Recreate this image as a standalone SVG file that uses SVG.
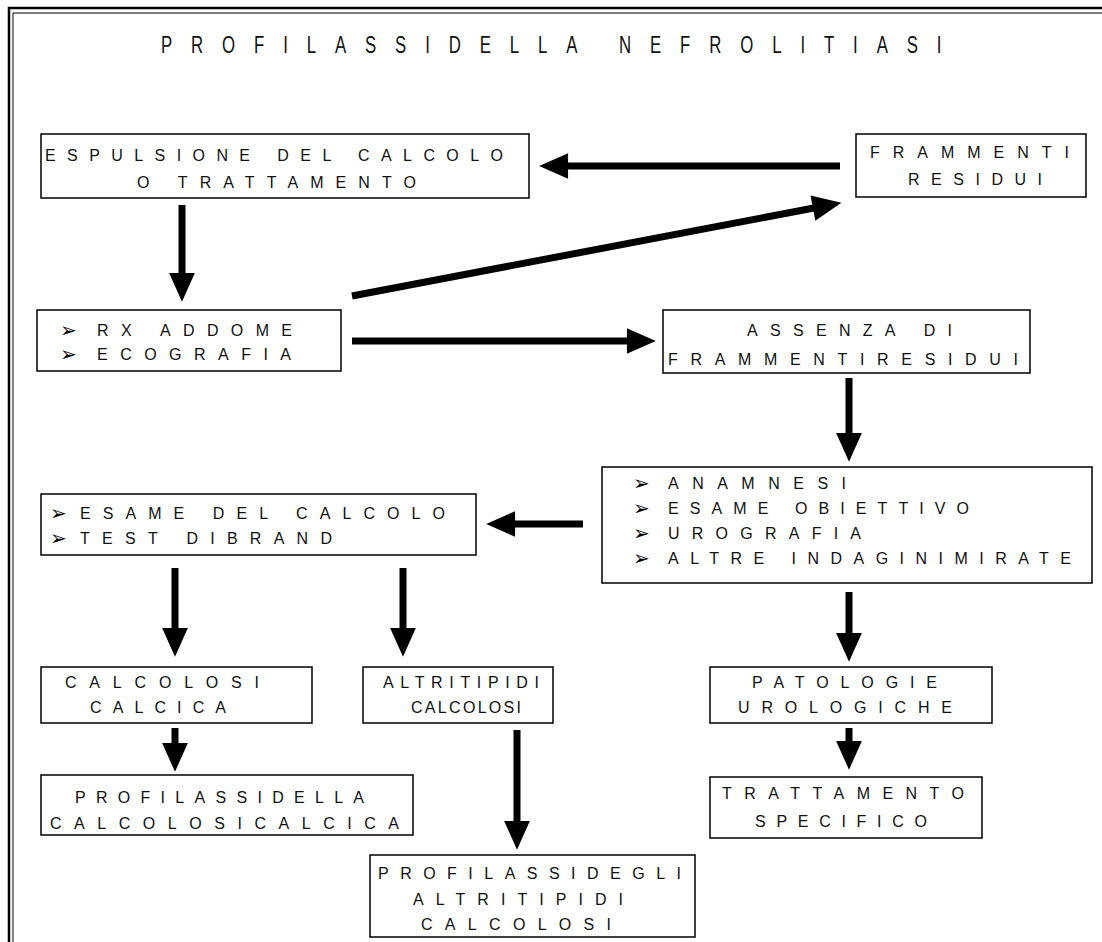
<svg xmlns="http://www.w3.org/2000/svg" width="1102" height="942" viewBox="0 0 1102 942">
  <style>
    .box { fill: #ffffff; stroke: #000000; stroke-width: 1.5; }
    .t { font-family: "Liberation Sans", Arial, sans-serif; font-size: 16px; fill: #111111; }
    .title { font-family: "Liberation Sans", Arial, sans-serif; font-size: 24px; fill: #111111; }
    .bul { font-family: "DejaVu Sans", sans-serif; font-size: 20px; fill: #000000; }
    .arr { stroke: #000000; stroke-width: 7; fill: none; marker-end: url(#head); }
  </style>
  <defs>
    <marker id="head" markerUnits="userSpaceOnUse" markerWidth="30" markerHeight="30" refX="1" refY="0" viewBox="0 -13 28 26" orient="auto" overflow="visible">
      <path d="M0,-12 L27,0 L0,12 Z" fill="#000000"/>
    </marker>
  </defs>
  <rect width="1102" height="942" fill="#ffffff"/>

  <!-- page frame: double rule on top and left -->
  <g id="frame" fill="none" stroke="#000000">
    <polyline points="9,942 9,8 1102,8" stroke-width="2.5"/>
    <polyline points="13,942 13,13 1102,13" stroke-width="1"/>
  </g>

  <!-- condensed title -->
  <text id="title" class="title" transform="scale(0.7,1)" x="230" y="53" textLength="1115" lengthAdjust="spacing">PROFILASSIDELLA NEFROLITIASI</text>

  <!-- connectors -->
  <g id="connectors">
    <line class="arr" x1="182" y1="205" x2="182" y2="274"/>
    <line class="arr" x1="840" y1="166" x2="567" y2="166"/>
    <line class="arr" x1="352" y1="296" x2="814" y2="208"/>
    <line class="arr" x1="352" y1="341" x2="628" y2="341"/>
    <line class="arr" x1="849" y1="378" x2="849" y2="434"/>
    <line class="arr" x1="583" y1="524" x2="514" y2="524"/>
    <line class="arr" x1="175" y1="568" x2="175" y2="629"/>
    <line class="arr" x1="403" y1="568" x2="403" y2="629"/>
    <line class="arr" x1="849" y1="592" x2="849" y2="634"/>
    <line class="arr" x1="175" y1="728" x2="175" y2="744"/>
    <line class="arr" x1="517" y1="730" x2="517" y2="822"/>
    <line class="arr" x1="849" y1="728" x2="849" y2="742"/>
  </g>

  <g id="espulsione">
    <rect class="box" x="41" y="134" width="488" height="64"/>
    <text class="t" x="45" y="161" textLength="458" lengthAdjust="spacing">ESPULSIONE DEL CALCOLO</text>
    <text class="t" x="137" y="188" textLength="279" lengthAdjust="spacing">O TRATTAMENTO</text>
  </g>

  <g id="frammenti">
    <rect class="box" x="856" y="134" width="230" height="63"/>
    <text class="t" x="870" y="158" textLength="199" lengthAdjust="spacing">FRAMMENTI</text>
    <text class="t" x="908" y="185" textLength="134" lengthAdjust="spacing">RESIDUI</text>
  </g>

  <g id="esami-imaging">
    <rect class="box" x="37" y="310" width="304" height="61"/>
    <text class="bul" x="60" y="337">➢</text>
    <text class="t" x="97" y="336" textLength="195" lengthAdjust="spacing">RX ADDOME</text>
    <text class="bul" x="60" y="361">➢</text>
    <text class="t" x="97" y="360" textLength="194" lengthAdjust="spacing">ECOGRAFIA</text>
  </g>

  <g id="assenza">
    <rect class="box" x="663" y="310" width="367" height="63"/>
    <text class="t" x="747" y="336" textLength="205" lengthAdjust="spacing">ASSENZA DI</text>
    <text class="t" x="668" y="365" textLength="350" lengthAdjust="spacing">FRAMMENTIRESIDUI</text>
  </g>

  <g id="indagini">
    <rect class="box" x="602" y="467" width="490" height="116"/>
    <text class="bul" x="633" y="490">➢</text>
    <text class="t" x="668" y="489" textLength="178" lengthAdjust="spacing">ANAMNESI</text>
    <text class="bul" x="633" y="515">➢</text>
    <text class="t" x="668" y="514" textLength="301" lengthAdjust="spacing">ESAME OBIETTIVO</text>
    <text class="bul" x="633" y="540">➢</text>
    <text class="t" x="668" y="539" textLength="193" lengthAdjust="spacing">UROGRAFIA</text>
    <text class="bul" x="633" y="565">➢</text>
    <text class="t" x="668" y="564" textLength="403" lengthAdjust="spacing">ALTRE INDAGINIMIRATE</text>
  </g>

  <g id="esame-calcolo">
    <rect class="box" x="41" y="494" width="435" height="61"/>
    <text class="bul" x="50" y="520">➢</text>
    <text class="t" x="80" y="519" textLength="365" lengthAdjust="spacing">ESAME DEL CALCOLO</text>
    <text class="bul" x="50" y="545">➢</text>
    <text class="t" x="80" y="544" textLength="252" lengthAdjust="spacing">TEST DIBRAND</text>
  </g>

  <g id="calcolosi-calcica">
    <rect class="box" x="41" y="667" width="271" height="56"/>
    <text class="t" x="65" y="688" textLength="194" lengthAdjust="spacing">CALCOLOSI</text>
    <text class="t" x="90" y="713" textLength="136" lengthAdjust="spacing">CALCICA</text>
  </g>

  <g id="altri-tipi">
    <rect class="box" x="363" y="667" width="190" height="56"/>
    <text class="t" x="383" y="688" textLength="156" lengthAdjust="spacing">ALTRITIPIDI</text>
    <text class="t" x="411" y="713" textLength="110" lengthAdjust="spacing">CALCOLOSI</text>
  </g>

  <g id="patologie">
    <rect class="box" x="710" y="667" width="282" height="56"/>
    <text class="t" x="752" y="688" textLength="185" lengthAdjust="spacing">PATOLOGIE</text>
    <text class="t" x="738" y="713" textLength="214" lengthAdjust="spacing">UROLOGICHE</text>
  </g>

  <g id="profilassi-calcica">
    <rect class="box" x="41" y="775" width="372" height="60"/>
    <text class="t" x="75" y="803" textLength="289" lengthAdjust="spacing">PROFILASSIDELLA</text>
    <text class="t" x="50" y="829" textLength="349" lengthAdjust="spacing">CALCOLOSICALCICA</text>
  </g>

  <g id="trattamento-specifico">
    <rect class="box" x="710" y="777" width="272" height="61"/>
    <text class="t" x="722" y="799" textLength="242" lengthAdjust="spacing">TRATTAMENTO</text>
    <text class="t" x="755" y="827" textLength="172" lengthAdjust="spacing">SPECIFICO</text>
  </g>

  <g id="profilassi-altri">
    <rect class="box" x="370" y="855" width="325" height="82"/>
    <text class="t" x="378" y="879" textLength="303" lengthAdjust="spacing">PROFILASSIDEGLI</text>
    <text class="t" x="413" y="905" textLength="210" lengthAdjust="spacing">ALTRITIPIDI</text>
    <text class="t" x="421" y="930" textLength="190" lengthAdjust="spacing">CALCOLOSI</text>
  </g>
</svg>
